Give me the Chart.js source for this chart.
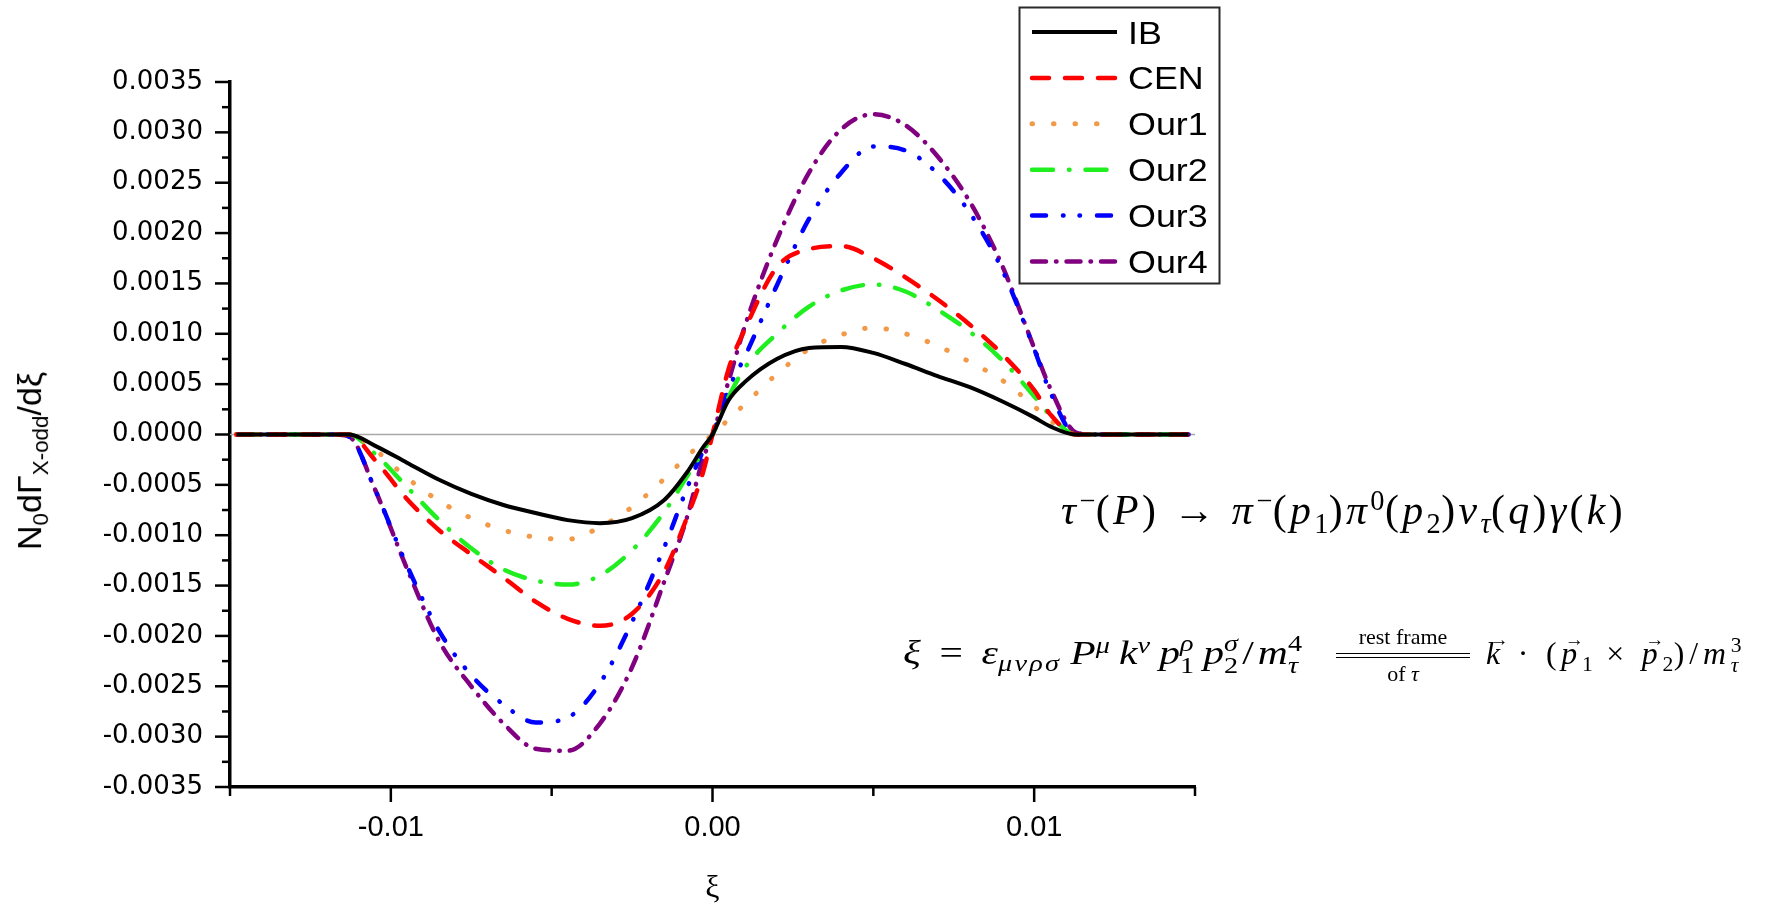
<!DOCTYPE html>
<html>
<head>
<meta charset="utf-8">
<script src="https://cdn.jsdelivr.net/npm/chart.js@4.4.1/dist/chart.umd.min.js"></script>
<style>
html,body{margin:0;padding:0;background:#fff;width:1783px;height:908px;overflow:hidden}
#wrap{position:relative;width:1783px;height:908px}
#c{position:absolute;left:0;top:0}
.math{position:absolute;left:0;top:0;white-space:nowrap;font-family:"Liberation Serif","DejaVu Serif",serif;font-weight:normal;color:#000;transform-origin:0 0;line-height:1}
.math i{font-style:italic}
.math sup,.math sub{font-size:0.68em;line-height:0}
.math sup{vertical-align:0.5em}
.math sub{vertical-align:-0.3em}
.ss{display:inline-block;font-size:0.68em;line-height:0.95;vertical-align:-0.38em;text-align:left}
.vec{position:relative;display:inline-block}
.vec::before{content:"\2192";position:absolute;left:0.18em;top:-0.38em;font-size:0.6em;font-style:normal}
.bl{display:inline-block;width:0;height:0}
.g1{display:inline-block;width:0.45em}
.g2{display:inline-block;width:0.22em}
.g3{display:inline-block;width:0.1em}
#f2a sub{letter-spacing:0.08em}
#f2b{text-align:center;width:134px}
#f2b .d{height:3px;border-top:1.5px solid #000;border-bottom:1.5px solid #000;margin:5px 0 5px 0}
#ytitle{position:absolute;left:0;top:0;white-space:nowrap;font-family:"Liberation Sans",Arial,sans-serif;font-size:34px;line-height:1;color:#000;transform-origin:50% 50%}
#ytitle sub{font-size:0.66em;line-height:0;vertical-align:-0.3em}
</style>
</head>
<body>
<div id="wrap">
<canvas id="c" width="1783" height="908"></canvas>
<div id="f1" class="math" style="font-size:42px"><i>τ</i><sup>−</sup>(<i>P</i>)&nbsp;→&nbsp;<i>π</i><sup>−</sup>(<i>p</i><sub>1</sub>)<i>π</i><sup>0</sup>(<i>p</i><sub>2</sub>)<i>ν</i><sub><i>τ</i></sub>(<i>q</i>)<i>γ</i>(<i>k</i>)<span class="bl"></span></div>
<div id="f2a" class="math" style="font-size:33px"><i>ξ</i><span class="g1"></span>=<span class="g1"></span><i>ε</i><sub><i>μνρσ</i></sub><span class="g2"></span><i>P</i><sup><i>μ</i></sup><span class="g2"></span><i>k</i><sup><i>ν</i></sup><span class="g2"></span><i>p</i><span class="ss"><i>ρ</i><br>1</span><span class="g2"></span><i>p</i><span class="ss"><i>σ</i><br>2</span><span class="g3"></span>/<span class="g3"></span><i>m</i><span class="ss">4<br><i>τ</i></span><span class="bl"></span></div>
<div id="f2b" class="math" style="font-size:22px"><div>rest frame</div><div class="d"></div><div>of <i>τ</i></div></div>
<div id="f2c" class="math" style="font-size:32px"><span class="vec"><i>k</i></span>&nbsp;·&nbsp;(<span class="vec"><i>p</i></span><sub>1</sub>&nbsp;×&nbsp;<span class="vec"><i>p</i></span><sub>2</sub>)/<i>m</i><span class="ss">3<br><i>τ</i></span><span class="bl"></span></div>
<div id="ytitle">N<sub>0</sub>dΓ<sub>X-odd</sub>/dξ</div>
</div>
<script>
// ---- data ----
const xi = [-0.0148, -0.013, -0.0118, -0.0113, -0.0105, -0.0095, -0.0085, -0.0075, -0.0065, -0.0055, -0.0045, -0.0035, -0.0025, -0.0015, -0.0008, -0.0003, 0,
            0.0005, 0.001, 0.002, 0.003, 0.004, 0.005, 0.006, 0.007, 0.008, 0.009, 0.010, 0.0105, 0.0113, 0.0118, 0.013, 0.0148];
const ibValues   = [0, 0, 0, 0, -0.00011, -0.00028, -0.00045, -0.00059, -0.0007, -0.00078, -0.00085, -0.00088, -0.00083, -0.00065, -0.00038, -0.00013, 0,
                    0.00034, 0.00052, 0.00075, 0.00086, 0.00087, 0.00081, 0.0007, 0.00058, 0.00047, 0.00033, 0.00017, 0.00008, 0, 0, 0, 0];
const cenValues  = [0, 0, 0, 0, -0.00025, -0.00064, -0.00095, -0.00119, -0.00142, -0.00166, -0.00183, -0.0019, -0.00178, -0.00136, -0.00083, -0.00038, 0,
                    0.00065, 0.00104, 0.00166, 0.00184, 0.00187, 0.00175, 0.00156, 0.00134, 0.00109, 0.0008, 0.00044, 0.0002, 0, 0, 0, 0];
const our1Values = [0, 0, 0, 0, -0.00015, -0.00043, -0.00066, -0.00083, -0.00095, -0.00102, -0.00104, -0.00092, -0.00072, -0.00044, -0.00022, -0.00008, 0,
                    0.00015, 0.0003, 0.0006, 0.00085, 0.00099, 0.00106, 0.001, 0.00088, 0.00072, 0.00054, 0.00028, 0.00014, 0, 0, 0, 0];
const our2Values = [0, 0, 0, 0, -0.00019, -0.00052, -0.00085, -0.00113, -0.00134, -0.00145, -0.00149, -0.0014, -0.00115, -0.00077, -0.00042, -0.00017, 0,
                    0.00037, 0.00066, 0.001, 0.00127, 0.00143, 0.00149, 0.00142, 0.00124, 0.00102, 0.00074, 0.00038, 0.00019, 0, 0, 0, 0];
const our3Values = [0, 0, 0, -0.00002, -0.00054, -0.0013, -0.00195, -0.00239, -0.00268, -0.00286, -0.00281, -0.00247, -0.00186, -0.00112, -0.00054, -0.00017, 0,
                    0.00045, 0.00077, 0.00148, 0.00214, 0.0026, 0.00286, 0.00282, 0.00259, 0.0022, 0.00164, 0.00085, 0.00042, 0, 0, 0, 0];
const our4Values = [0, 0, 0, -0.00002, -0.00054, -0.00133, -0.00205, -0.0025, -0.00287, -0.00312, -0.00314, -0.00287, -0.00231, -0.00146, -0.00083, -0.00025, 0,
                    0.00053, 0.00107, 0.00193, 0.0026, 0.00303, 0.00318, 0.00307, 0.00276, 0.00231, 0.00168, 0.00086, 0.00046, 0.00002, 0, 0, 0];
const seriesNames = ['IB', 'CEN', 'Our1', 'Our2', 'Our3', 'Our4'];
const yTickValues = [-0.0035, -0.003, -0.0025, -0.002, -0.0015, -0.001, -0.0005, 0, 0.0005, 0.001, 0.0015, 0.002, 0.0025, 0.003, 0.0035];
const yTickLabels = ['-0.0035', '-0.0030', '-0.0025', '-0.0020', '-0.0015', '-0.0010', '-0.0005', '0.0000', '0.0005', '0.0010', '0.0015', '0.0020', '0.0025', '0.0030', '0.0035'];
const xTickValues = [-0.015, -0.01, -0.005, 0, 0.005, 0.01, 0.015];
const xTickLabels = ['', '-0.01', '', '0.00', '', '0.01', ''];

const pts = arr => xi.map((x, i) => ({x: x, y: arr[i]}));

const styles = [
  {color: '#000000', width: 4, dash: [], cap: 'butt'},
  {color: '#ff0000', width: 4.5, dash: [17, 16], cap: 'round'},
  {color: '#f29a48', width: 5, dash: [0.5, 21], cap: 'round'},
  {color: '#1fee1f', width: 4.5, dash: [21, 16, 0.5, 16], cap: 'round'},
  {color: '#0000ff', width: 4.5, dash: [14, 17, 0.5, 16, 0.5, 17], cap: 'round'},
  {color: '#800080', width: 4.5, dash: [14, 10, 0.5, 10], cap: 'round'}
];
const allValues = [ibValues, cenValues, our1Values, our2Values, our3Values, our4Values];

const datasets = seriesNames.map((name, i) => ({
  label: name,
  data: pts(allValues[i]),
  borderColor: styles[i].color,
  backgroundColor: styles[i].color,
  borderWidth: styles[i].width,
  borderDash: styles[i].dash,
  borderCapStyle: styles[i].cap,
  borderJoinStyle: 'round',
  pointRadius: 0,
  fill: false,
  cubicInterpolationMode: 'monotone'
}));

const decorPlugin = {
  id: 'decor',
  beforeDatasetsDraw(chart) {
    const {ctx, chartArea: ca, scales: {y}} = chart;
    const y0 = y.getPixelForValue(0);
    ctx.save();
    ctx.strokeStyle = '#a8a8a8';
    ctx.lineWidth = 1.5;
    ctx.beginPath();
    ctx.moveTo(ca.left, y0);
    ctx.lineTo(ca.right, y0);
    ctx.stroke();
    ctx.restore();
  },
  afterDraw(chart) {
    const {ctx, chartArea: ca, scales: {x, y}} = chart;
    ctx.save();
    ctx.strokeStyle = '#000';
    ctx.lineWidth = 2.5;
    ctx.setLineDash([]);
    const seg = (x1, y1, x2, y2) => { ctx.beginPath(); ctx.moveTo(x1, y1); ctx.lineTo(x2, y2); ctx.stroke(); };
    yTickValues.forEach((v, i) => {
      const p = y.getPixelForValue(v);
      seg(ca.left - 15, p, ca.left, p);
      if (i < yTickValues.length - 1) {
        const pm = y.getPixelForValue((v + yTickValues[i + 1]) / 2);
        seg(ca.left - 8, pm, ca.left, pm);
      }
    });
    xTickValues.forEach((v, i) => {
      const p = x.getPixelForValue(v);
      const len = xTickLabels[i] ? 15 : 9;
      seg(p, ca.bottom, p, ca.bottom + len);
    });
    // legend
    const L = 1019, T = 7, W = 200, H = 276;
    ctx.lineWidth = 2;
    ctx.strokeStyle = '#2a2a2a';
    ctx.strokeRect(L + 0.5, T + 0.5, W, H);
    chart.data.datasets.forEach((ds, i) => {
      const yy = 32 + i * 45.9;
      ctx.save();
      ctx.beginPath();
      ctx.setLineDash(ds.borderDash || []);
      ctx.lineCap = ds.borderCapStyle || 'butt';
      ctx.lineWidth = ds.borderWidth;
      ctx.strokeStyle = ds.borderColor;
      ctx.moveTo(1032, yy);
      ctx.lineTo(1117, yy);
      ctx.stroke();
      ctx.restore();
      ctx.save();
      ctx.translate(1128, yy + 11.5);
      ctx.scale(1.12, 1);
      ctx.fillStyle = '#000';
      ctx.font = '32px "Liberation Sans", Arial, sans-serif';
      ctx.textBaseline = 'alphabetic';
      ctx.textAlign = 'left';
      ctx.fillText(ds.label, 0, 0);
      ctx.restore();
    });
    ctx.restore();
  }
};

const chart = new Chart(document.getElementById('c'), {
  type: 'line',
  data: {datasets: datasets},
  options: {
    responsive: false,
    devicePixelRatio: 1,
    animation: false,
    layout: {padding: {left: 0, top: 82, right: 588, bottom: 0}},
    plugins: {legend: {display: false}, tooltip: {enabled: false}},
    scales: {
      x: {
        type: 'linear',
        min: -0.015,
        max: 0.015,
        afterBuildTicks: s => { s.ticks = xTickValues.map(v => ({value: v})); },
        afterFit: s => { s.height = 121; },
        ticks: {
          autoSkip: false,
          maxRotation: 0,
          padding: 24,
          color: '#000',
          font: {family: '"Liberation Sans", Arial, sans-serif', size: 29},
          callback: (v, i) => xTickLabels[i]
        },
        grid: {display: false, drawTicks: false},
        border: {display: true, color: '#000', width: 3.5},
        title: {display: true, text: 'ξ', color: '#000', padding: {top: 0, bottom: 0},
                font: {family: '"Liberation Serif", serif', size: 32}}
      },
      y: {
        type: 'linear',
        min: -0.0035,
        max: 0.0035,
        afterBuildTicks: s => { s.ticks = yTickValues.map(v => ({value: v})); },
        afterFit: s => { s.width = 230; },
        ticks: {
          autoSkip: false,
          padding: 27,
          color: '#000',
          font: {family: '"DejaVu Sans", sans-serif', size: 26},
          callback: (v, i) => yTickLabels[i]
        },
        grid: {display: false, drawTicks: false},
        border: {display: true, color: '#000', width: 3.5}
      }
    }
  },
  plugins: [decorPlugin]
});

// ---- place math annotations ----
function placeMath(id, left, right, baseline, spread) {
  const el = document.getElementById(id);
  el.style.left = left + 'px';
  el.style.top = '0px';
  el.style.transform = 'none';
  const target = right - left;
  let w = el.getBoundingClientRect().width;
  if (spread) {
    el.style.letterSpacing = '0px';
    el.querySelectorAll('sub, sup, .ss').forEach(c => { c.style.letterSpacing = '0.5px'; });
    let n = 0;
    el.childNodes.forEach(c => {
      if (c.nodeType === 3) n += c.textContent.length;
      else if (c.matches && (c.matches('i') || c.matches('.vec'))) n += 1;
    });
    if (w < target && n > 0) {
      el.style.letterSpacing = Math.min(8, (target - w) / n) + 'px';
      w = el.getBoundingClientRect().width;
    }
  }
  const bl = el.querySelector('.bl').getBoundingClientRect().top;
  el.style.top = (baseline - bl) + 'px';
  el.style.transform = 'scaleX(' + (target / w) + ')';
}
placeMath('f1', 1061, 1626, 524, true);
placeMath('f2a', 903, 1302, 664, false);
placeMath('f2c', 1486, 1742, 664, true);

(function () {
  const el = document.getElementById('f2b');
  el.style.left = '1336px';
  el.style.top = '0px';
  const d = el.querySelector('.d').getBoundingClientRect();
  el.style.top = (655 - (d.top + d.height / 2)) + 'px';
})();

const yt = document.getElementById('ytitle');
const w = yt.offsetWidth, h = yt.offsetHeight;
yt.style.left = (29 - w / 2) + 'px';
yt.style.top = (461 - h / 2) + 'px';
yt.style.transform = 'rotate(-90deg)';
</script>
</body>
</html>
